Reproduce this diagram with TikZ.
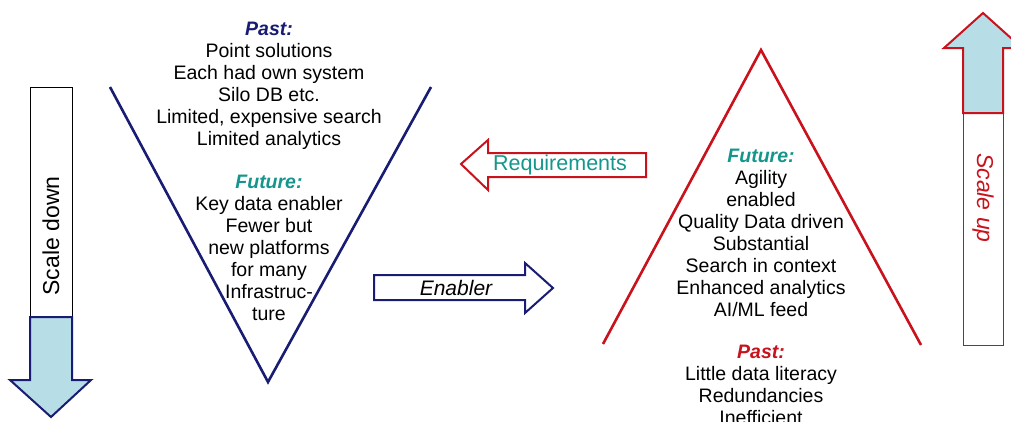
\documentclass[tikz,border=0pt]{standalone}
\usepackage{fontspec}
\setmainfont{Liberation Sans}
\usetikzlibrary{positioning}
\definecolor{navy}{RGB}{25,28,115}
\definecolor{teal}{RGB}{20,150,140}
\definecolor{darkred}{RGB}{200,18,28}
\definecolor{lightblue}{RGB}{183,222,230}
\tikzset{
  txt/.style={align=center,inner sep=0pt,anchor=north,font=\fontsize{19.5}{22}\selectfont},
  big/.style={inner sep=0pt,anchor=center,font=\fontsize{23}{26}\selectfont},
  blockarrow/.style={line width=2pt,line join=miter},
}
\newcommand{\headline}[2]{\textcolor{#1}{\textbf{\textit{#2}}}}
\begin{document}
\begin{tikzpicture}[x=1pt,y=-1pt]
  \useasboundingbox (0,0) rectangle (1011,421);

  % scale down, left
  \draw[black,line width=0.8pt] (30,87) rectangle (72,317);
  \draw[blockarrow,navy,fill=lightblue] (30,317) -- (72,317) -- (72,380) -- (91,380)
    -- (51,417) -- (10,380) -- (30,380) -- cycle;
  \path (51,236) node[big,rotate=90] (down) {Scale down};

  % scale up, right
  \draw[darkred,line width=0.8pt] (963,113) rectangle (1003,345);
  \draw[blockarrow,darkred,fill=lightblue] (963,113) -- (1003,113) -- (1003,48) -- (1022,48)
    -- (983,13) -- (944,48) -- (963,48) -- cycle;
  \path (983,198) node[big,rotate=-90,text=darkred,font=\fontsize{23}{26}\selectfont\itshape] (up) {Scale up};

  % the V
  \draw[navy,line width=2.6pt] (110,87) -- (268,382) -- (431,87);
  \path (269,22) node[txt] (vpast) {\headline{navy}{Past:}\\Point solutions\\Each had own system\\Silo DB etc.\\Limited, expensive search\\Limited analytics};
  \path (269,175) node[txt] (vfuture) {\headline{teal}{Future:}\\Key data enabler\\Fewer but\\new platforms\\for many\\Infrastruc-\\ture};

  % the triangle
  \draw[darkred,line width=2.6pt] (603,344) -- (761,50) -- (921,345);
  \path (761,149) node[txt] (tfuture) {\headline{teal}{Future:}\\Agility\\enabled\\Quality Data driven\\Substantial\\Search in context\\Enhanced analytics\\AI/ML feed};
  \path (761,345) node[txt] (tpast) {\headline{darkred}{Past:}\\Little data literacy\\Redundancies\\Inefficient};

  % requirements and enabler
  \draw[blockarrow,darkred] (646,153) -- (488,153) -- (488,140) -- (461,164)
    -- (488,190) -- (488,177) -- (646,177) -- cycle;
  \path (560,165) node[txt,anchor=center,text=teal,font=\fontsize{21.5}{24}\selectfont] (req) {Requirements};
  \draw[blockarrow,navy] (374,275) -- (525,275) -- (525,263) -- (553,288)
    -- (525,313) -- (525,300) -- (374,300) -- cycle;
  \path (456,288) node[txt,anchor=center,font=\fontsize{21}{24}\selectfont\itshape] (enab) {Enabler};
\end{tikzpicture}
\end{document}
